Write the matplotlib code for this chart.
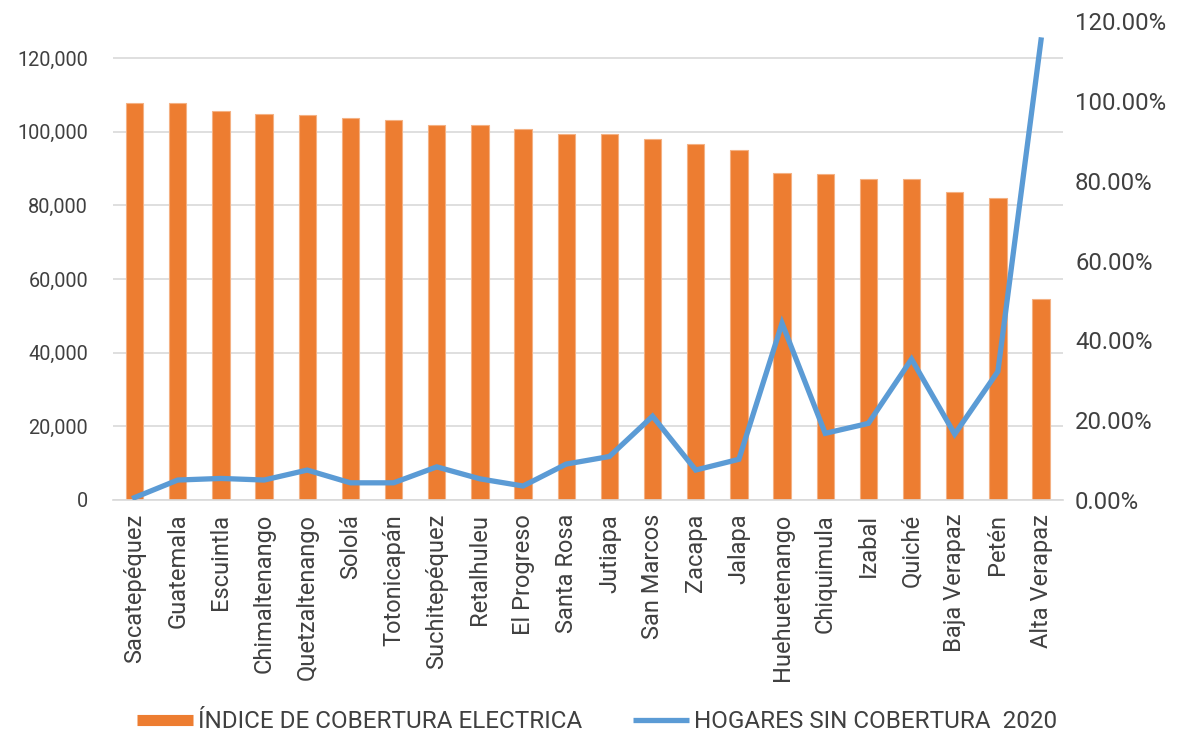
import matplotlib.pyplot as plt
from matplotlib.lines import Line2D
from matplotlib.ticker import FuncFormatter

departamentos = ["Sacatepéquez", "Guatemala", "Escuintla", "Chimaltenango", "Quetzaltenango",
                 "Sololá", "Totonicapán", "Suchitepéquez", "Retalhuleu", "El Progreso",
                 "Santa Rosa", "Jutiapa", "San Marcos", "Zacapa", "Jalapa", "Huehuetenango",
                 "Chiquimula", "Izabal", "Quiché", "Baja Verapaz", "Petén", "Alta Verapaz"]

# índice de cobertura eléctrica (eje izquierdo)
indice_cobertura = [107900, 107900, 105700, 104900, 104500, 103600, 103100, 101800, 101800,
                    100600, 99300, 99300, 98000, 96600, 94900, 88800, 88400, 87100, 87100,
                    83600, 81900, 54500]
# hogares sin cobertura 2020 (eje derecho, fracción)
hogares_sin = [0.006, 0.050, 0.054, 0.050, 0.075, 0.043, 0.043, 0.083, 0.053, 0.035, 0.090,
               0.109, 0.210, 0.075, 0.102, 0.443, 0.167, 0.192, 0.353, 0.165, 0.322, 1.153]

serie_barras = 'ÍNDICE DE COBERTURA ELECTRICA'
serie_linea = 'HOGARES SIN COBERTURA  2020'

plt.rcParams['font.family'] = ['Roboto', 'DejaVu Sans']
txt = '#404040'
naranja = '#ED7D31'
azul = '#5B9BD5'

fig = plt.figure(figsize=(11.82, 7.37), dpi=100)
ax = fig.add_axes([0.0956, 0.3216, 0.8034, 0.6496])
ax2 = ax.twinx()

x = range(len(departamentos))
ax.bar(x, indice_cobertura, width=0.4, color=naranja, edgecolor='#F4B183', linewidth=0.8,
       zorder=2)
ax2.plot(x, hogares_sin, color=azul, linewidth=3.8, solid_joinstyle='miter')

ax.set_xlim(-0.5, len(departamentos) - 0.5)
ax.set_ylim(0, 130000)
ax.set_yticks(range(0, 120001, 20000))
ax.yaxis.set_major_formatter(FuncFormatter(lambda v, p: f"{int(v):,}"))
ax2.set_ylim(0, 1.2)
ax2.set_yticks([i * 0.2 for i in range(7)])
ax2.yaxis.set_major_formatter(FuncFormatter(lambda v, p: f"{v * 100:.2f}%"))

ax.grid(axis='y', color='#D9D9D9', linewidth=1.2, zorder=0)
ax.set_axisbelow(True)
for a in (ax, ax2):
    for s in a.spines.values():
        s.set_visible(False)
    a.tick_params(length=0, colors=txt)
ax.spines['bottom'].set_visible(True)
ax.spines['bottom'].set_color('#D9D9D9')
ax.spines['bottom'].set_linewidth(1.2)

ax.set_xticks(list(x))
ax.set_xticklabels(departamentos, rotation=90, fontsize=17, color=txt)
ax.tick_params(axis='x', pad=10)
ax.tick_params(axis='y', pad=18, labelsize=14.3)
ax2.tick_params(axis='y', pad=9, labelsize=17.2)

handles = [Line2D([], [], color=naranja, linewidth=8, solid_capstyle='butt'),
           Line2D([], [], color=azul, linewidth=3.8, solid_capstyle='butt')]
fig.legend(handles, [serie_barras, serie_linea], loc='center left',
           bbox_to_anchor=(137 / 1182, 1 - 722 / 737), ncol=2, frameon=False,
           fontsize=17.5, labelcolor=txt, columnspacing=2.1, handlelength=2.3,
           handletextpad=0.2, borderpad=0, borderaxespad=0)

fig.savefig('out.png', dpi=100)
